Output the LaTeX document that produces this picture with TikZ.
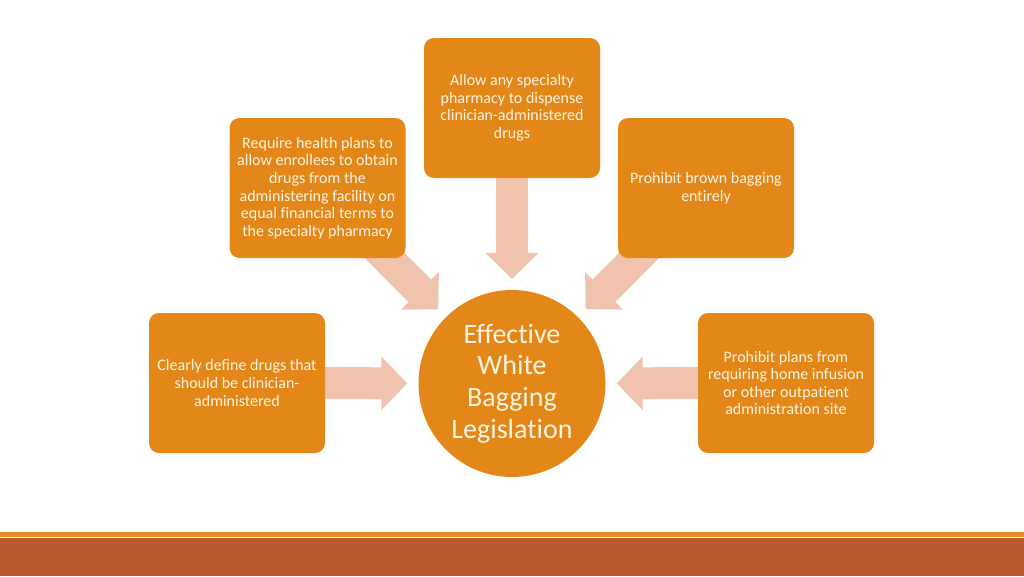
\documentclass[tikz,border=0pt]{standalone}
\usepackage{fontspec}
\setmainfont{Carlito}[Ligatures=NoCommon]
\usetikzlibrary{arrows.meta,backgrounds}
\definecolor{boxorange}{HTML}{E38719}
\definecolor{arrowpeach}{HTML}{EFC3AC}
\definecolor{bandred}{HTML}{B9592C}
\definecolor{bandline}{HTML}{E58A1E}
\definecolor{textcream}{HTML}{FFF4E2}
\begin{document}
\begin{tikzpicture}[x=1pt,y=-1pt,
    idea/.style={fill=boxorange,rounded corners=10pt,minimum width=176pt,minimum height=140pt,
      text=textcream,align=center,inner sep=2pt,font=\fontsize{16}{17.6}\selectfont},
    hubnode/.style={circle,fill=boxorange,minimum size=187pt,inner sep=0pt,
      text=textcream,align=center,font=\fontsize{28}{31.6}\selectfont},
    push/.style={arrowpeach,line width=32pt,-{Triangle[length=26pt,width=52pt]},shorten >=11pt}]
        \useasboundingbox (0,0) rectangle (1024,576);
        \fill[bandline] (0,532) rectangle (1024,537);
        \fill[bandred] (0,538) rectangle (1024,576);
        \node[hubnode] (hub) at (512,383.5) {Effective\\White\\Bagging\\Legislation};
        \node[idea] (anyrx) at (512,108) {Allow any specialty\\pharmacy to dispense\\clinician-administered\\drugs};
        \node[idea] (equal) at (317.5,188) {Require health plans to\\allow enrollees to obtain\\drugs from the\\administering facility on\\equal financial terms to\\the specialty pharmacy};
        \node[idea] (brown) at (706,188) {Prohibit brown bagging\\entirely};
        \node[idea] (define) at (237,383) {Clearly define drugs that\\should be clinician-\\administered};
        \node[idea] (home) at (786,383) {Prohibit plans from\\requiring home infusion\\or other outpatient\\administration site};
        \begin{scope}[on background layer]
          \draw[push] (anyrx.center) -- (hub);
          \draw[push] (equal.center) -- (hub);
          \draw[push] (brown.center) -- (hub);
          \draw[push] (define.center) -- (hub);
          \draw[push] (home.center) -- (hub);
        \end{scope}
      \end{tikzpicture}
\end{document}
